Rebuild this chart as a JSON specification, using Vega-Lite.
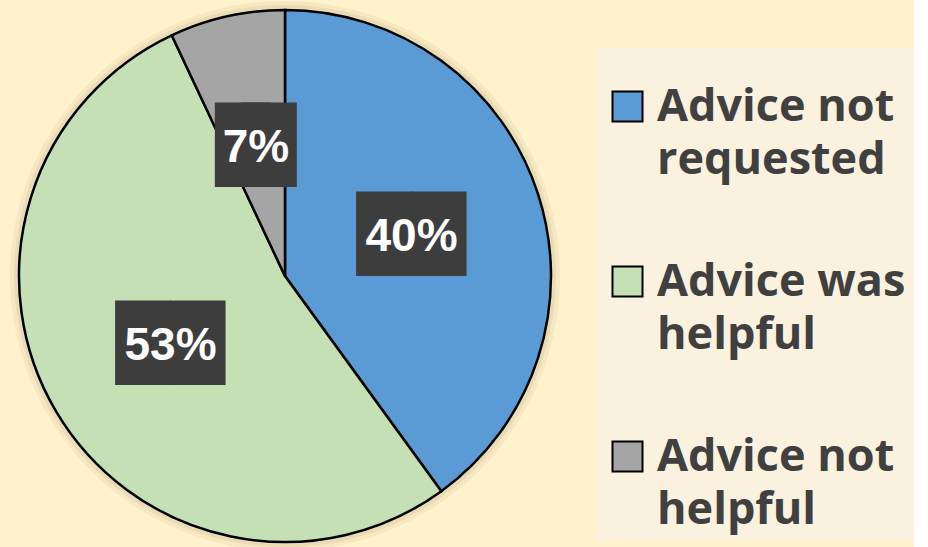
{
  "$schema": "https://vega.github.io/schema/vega-lite/v6.json",
  "width": 570,
  "height": 540,
  "autosize": "none",
  "padding": {"left": 0, "top": 6, "right": 344, "bottom": 1},
  "background": "#FFF2CC",
  "config": {"view": {"stroke": null}},
  "data": {"values": [
    {"category": "Advice not requested", "value": 40, "label": "40%", "order": 1, "wide": 1},
    {"category": "Advice was helpful", "value": 53, "label": "53%", "order": 2, "wide": 1},
    {"category": "Advice not helpful", "value": 7, "label": "7%", "order": 3, "wide": 0}
  ]},
  "encoding": {
    "theta": {"field": "value", "type": "quantitative", "stack": true},
    "order": {"field": "order", "type": "quantitative"}
  },
  "layer": [
    {
      "mark": {"type": "arc", "outerRadius": 275, "fill": "#B8A67A", "fillOpacity": 0.12, "strokeWidth": 0}
    },
    {
      "mark": {"type": "arc", "outerRadius": 271, "fill": "#B8A67A", "fillOpacity": 0.18, "strokeWidth": 0}
    },
    {
      "mark": {"type": "arc", "outerRadius": 266, "stroke": "#000000", "strokeWidth": 2.5},
      "encoding": {
        "color": {
          "field": "category", "type": "nominal",
          "scale": {"domain": ["Advice not requested", "Advice was helpful", "Advice not helpful"], "range": ["#5B9BD5", "#C5E0B4", "#A5A5A5"]},
          "legend": {
            "orient": "none", "legendX": 597, "legendY": 42,
            "title": " ", "titleFontSize": 20, "titlePadding": 8,
            "fillColor": "#FAF1DE", "padding": 8,
            "labelFont": "Open Sans", "labelFontWeight": "bold", "labelFontSize": 45, "labelColor": "#404040",
            "labelLimit": 400, "labelOffset": 7,
            "labelExpr": "datum.label == 'Advice not requested' ? ['Advice not', 'requested'] : datum.label == 'Advice was helpful' ? ['Advice was', 'helpful'] : ['Advice not', 'helpful']",
            "symbolType": "square", "symbolSize": 900, "symbolStrokeColor": "#000000", "symbolStrokeWidth": 2, "symbolOpacity": 1,
            "rowPadding": 76,
            "encode": {"labels": {"update": {"lineHeight": {"value": 53}}}}
          }
        }
      }
    },
    {
      "mark": {"type": "text", "radius": 133, "font": "DejaVu Sans", "fontSize": 71, "color": "#3D3D3D", "baseline": "middle", "dy": 2},
      "encoding": {"text": {"condition": {"test": "datum.wide == 1", "value": "██"}, "value": ""}}
    },
    {
      "mark": {"type": "text", "radius": 133, "font": "DejaVu Sans", "fontSize": 71, "color": "#3D3D3D", "baseline": "middle", "dy": 2, "dx": -13},
      "encoding": {"text": {"condition": {"test": "datum.wide == 0", "value": "█"}, "value": ""}}
    },
    {
      "mark": {"type": "text", "radius": 133, "font": "DejaVu Sans", "fontSize": 71, "color": "#3D3D3D", "baseline": "middle", "dy": 2, "dx": 13},
      "encoding": {"text": {"condition": {"test": "datum.wide == 0", "value": "█"}, "value": ""}}
    },
    {
      "mark": {"type": "text", "radius": 133, "font": "Liberation Sans", "fontWeight": "bold", "fontSize": 46, "color": "#FFFFFF", "baseline": "middle", "dy": 2},
      "encoding": {"text": {"field": "label"}}
    }
  ]
}
